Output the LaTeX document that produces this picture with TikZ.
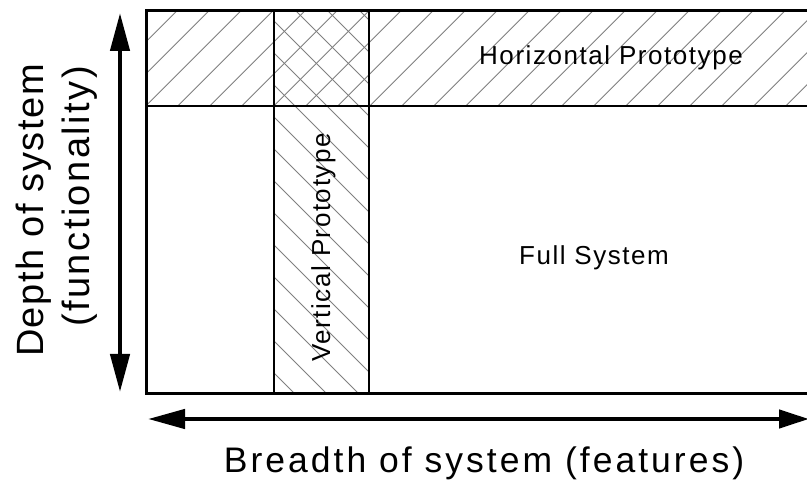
\documentclass[tikz,border=0pt]{standalone}
\usepackage{fontspec}
\setmainfont{Liberation Sans}
\usetikzlibrary{arrows.meta}

\tikzset{
  frameline/.style={line width=3pt, line cap=rect},
  innerline/.style={line width=2pt},
  hatchline/.style={line width=0.85pt, draw=black!50},
  midlabel/.style={inner sep=0pt, font=\fontsize{26}{31}\selectfont\addfontfeature{LetterSpace=6}},
  biglabel/.style={inner sep=0pt, font=\fontsize{38}{45}\selectfont\addfontfeature{LetterSpace=4}},
  axislabel/.style={inner sep=0pt, font=\fontsize{35.5}{42}\selectfont\addfontfeature{LetterSpace=8.5}},
  axisarrow/.style={line width=4.5pt},
}

\begin{document}
\begin{tikzpicture}[x=1pt, y=-1pt]
  \useasboundingbox (0,0) rectangle (807,481);
  \fill[white] (0,0) rectangle (807,481);
  \clip (0,0) rectangle (807,481);

  % forward hatching of the horizontal band
  \begin{scope}
    \clip (146,11) rectangle (820,106);
    \foreach \k in {-2,...,24} {
      \pgfmathsetmacro{\c}{187.7+32*\k}
      \draw[hatchline] (\c-11,11) -- (\c-106,106);
    }
  \end{scope}

  % backward hatching of the vertical band
  \begin{scope}
    \clip (274,11) rectangle (369,394);
    \foreach \k in {-13,...,4} {
      \pgfmathsetmacro{\d}{253+32*\k}
      \draw[hatchline] (\d+11,11) -- (\d+394,394);
    }
  \end{scope}

  % frame and band boundaries
  \coordinate (tl) at (146,11);
  \coordinate (bl) at (146,394);
  \coordinate (tr) at (815,11);
  \coordinate (br) at (815,394);
  \draw[innerline] (146,106) -- (815,106);
  \draw[innerline] (274,11) -- (274,394);
  \draw[innerline] (369,11) -- (369,394);
  \draw[frameline] (tr) -- (tl) -- (bl) -- (br);

  % labels inside the frame
  \node[midlabel, anchor=base] (hproto) at (611,64.3) {Horizontal Prototype};
  \node[midlabel, anchor=base] (full) at (594,264.3) {Full System};
  \node[midlabel, rotate=90, anchor=base] (vproto) at (330,247.5) {Vertical Prototype};

  % depth axis
  \coordinate (vtop) at (120,13);
  \coordinate (vbot) at (120,392);
  \draw[axisarrow, {Triangle[length=38pt,width=19pt]}-{Triangle[length=38pt,width=19pt]}] (vbot) -- (vtop);
  \node[biglabel, rotate=90, anchor=base east] (depthA) at (43.3,64) {Depth of system};
  \node[biglabel, rotate=90, anchor=base east, font=\fontsize{38}{45}\selectfont\addfontfeature{LetterSpace=6.5}] (depthB) at (89.5,66) {(functionality)};

  % breadth axis
  \coordinate (hleft) at (148,419);
  \coordinate (hright) at (809,419);
  \draw[axisarrow, {Triangle[length=37pt,width=19pt]}-{Triangle[length=30pt,width=18pt]}] (hleft) -- (hright);
  \node[axislabel, anchor=base] (breadth) at (484,472.3) {Breadth of system (features)};
\end{tikzpicture}
\end{document}
